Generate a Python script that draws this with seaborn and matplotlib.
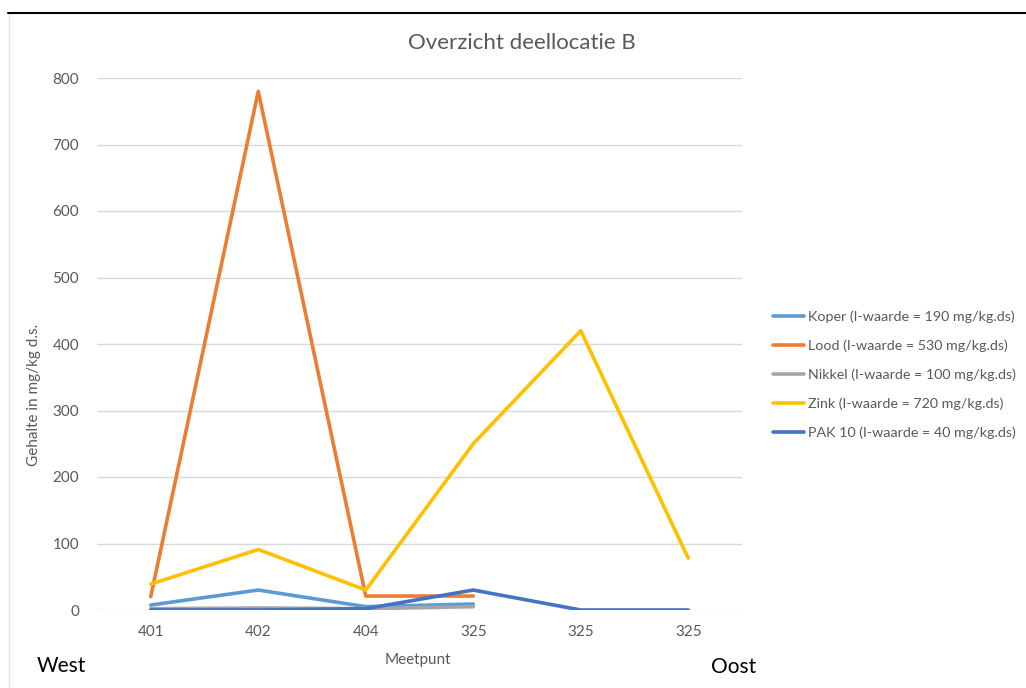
import numpy as np
import pandas as pd
import matplotlib
matplotlib.use("Agg")
import matplotlib.pyplot as plt
import seaborn as sns
from matplotlib.lines import Line2D

# Meetpunten van west naar oost
meetpunten = ["401", "402", "404", "325", "325", "325"]

koper = [7.5, 30, 5, 9, np.nan, np.nan]
lood = [20, 780, 21, 21, np.nan, np.nan]
nikkel = [2, 3, 2, 5, np.nan, np.nan]
zink = [39, 91, 30, 250, 420, 78]
pak10 = [0, 0, 2, 30, 0, 0]

reeksen = [
    "Koper (I-waarde = 190 mg/kg.ds)",
    "Lood (I-waarde = 530 mg/kg.ds)",
    "Nikkel (I-waarde = 100 mg/kg.ds)",
    "Zink (I-waarde = 720 mg/kg.ds)",
    "PAK 10 (I-waarde = 40 mg/kg.ds)",
]
kleuren = ["#5B9BD5", "#ED7D31", "#A5A5A5", "#FFC000", "#4472C4"]

rows = []
for naam, waarden in zip(reeksen, [koper, lood, nikkel, zink, pak10]):
    for i, v in enumerate(waarden):
        if not np.isnan(v):
            rows.append({"pos": i, "waarde": v, "reeks": naam})
df = pd.DataFrame(rows)

sns.set_theme(style="white")
plt.rcParams["font.family"] = ["Lato", "DejaVu Sans"]

fig = plt.figure(figsize=(10.26, 6.88), dpi=100)
ax = fig.add_axes([97 / 1026, 1 - 610 / 688, (742 - 97) / 1026, (610 - 78) / 688])

sns.lineplot(data=df, x="pos", y="waarde", hue="reeks", hue_order=reeksen,
             palette=kleuren, linewidth=2.6, sort=False, ax=ax, legend=False)

ax.set_xlim(-0.5, 5.5)
ax.set_ylim(0, 800)
ax.set_yticks(range(0, 801, 100))
ax.set_xticks(range(len(meetpunten)))
ax.set_xticklabels(meetpunten)
ax.tick_params(axis="both", labelsize=11, colors="#595959", length=0)
ax.tick_params(axis="x", pad=11)
ax.tick_params(axis="y", pad=13)
ax.grid(axis="y", color="#D9D9D9", linewidth=1)
ax.set_axisbelow(True)
for s in ax.spines.values():
    s.set_visible(False)
ax.set_xlabel("")
ax.set_ylabel("")

# Legenda rechts van de grafiek
handles = [Line2D([0], [0], color=c, linewidth=2.6) for c in kleuren]
fig.legend(handles, reeksen, loc="center left", bbox_to_anchor=(760 / 1026, 1 - 375 / 688),
           frameon=False, fontsize=10.3, labelcolor="#595959", handlelength=2.2,
           handletextpad=0.25, labelspacing=1.15)

fig.text(522 / 1026, 1 - 43 / 688, "Overzicht deellocatie B", ha="center", va="center",
         fontsize=16, color="#595959")
fig.text(34 / 1026, 1 - 395 / 688, "Gehalte in mg/kg d.s.", ha="center", va="center",
         rotation=90, fontsize=11, color="#595959")
fig.text(418 / 1026, 1 - 660 / 688, "Meetpunt", ha="center", va="center",
         fontsize=11, color="#595959")
fig.text(61 / 1026, 1 - 666 / 688, "West", ha="center", va="center",
         fontsize=15, color="black")
fig.text(734 / 1026, 1 - 667 / 688, "Oost", ha="center", va="center",
         fontsize=15, color="black")

# Kader van de afbeelding
fig.add_artist(Line2D([8 / 1026, 1], [1 - 13 / 688, 1 - 13 / 688], color="black", linewidth=1.5,
                      transform=fig.transFigure))
fig.add_artist(Line2D([9 / 1026, 9 / 1026], [0, 1 - 14 / 688], color="#E3E3E3", linewidth=1,
                      transform=fig.transFigure))

fig.savefig("out.png", dpi=100, facecolor="white")
